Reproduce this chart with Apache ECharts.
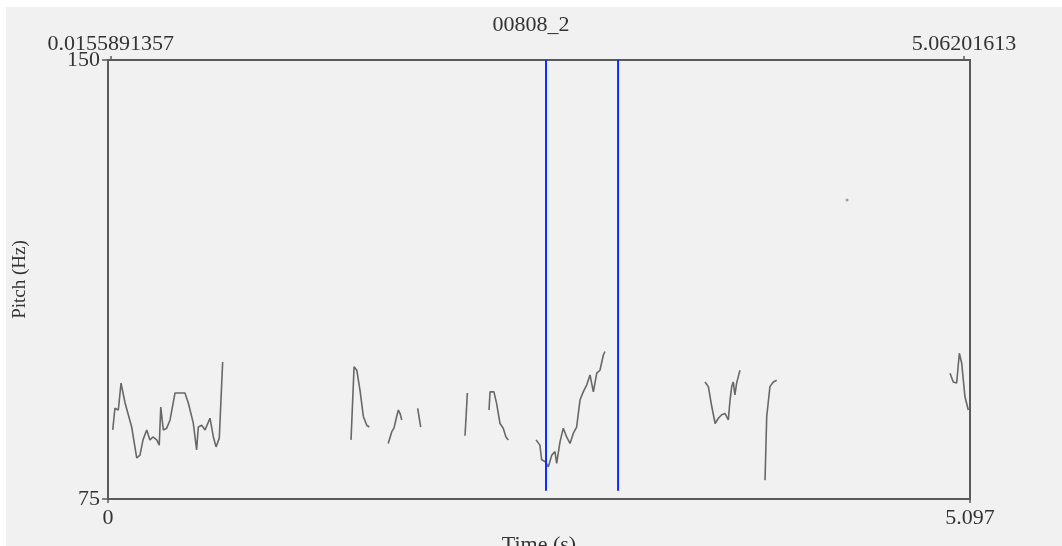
<!DOCTYPE html>
<html>
<head>
<meta charset="utf-8">
<script src="https://cdn.jsdelivr.net/npm/echarts@6/dist/echarts.min.js"></script>
<style>
html,body{margin:0;padding:0;background:#ffffff;}
#bg{position:absolute;left:6px;top:7px;width:1056px;height:539px;background:#f1f1f1;}
#c{position:absolute;left:0;top:0;width:1062px;height:546px;}
</style>
</head>
<body>
<div id="bg"></div>
<div id="c"></div>
<script>
// ---- data (time in s, pitch in Hz) ----
var titleText = '00808_2';
var xMin = 0, xMax = 5.097;
var yMin = 75, yMax = 150;
var bottomTickValues = [0, 5.097];
var bottomTickLabels = ['0', '5.097'];
var topTickValues = [0.0155891357, 5.06201613];
var topTickLabels = ['0.0155891357', '5.06201613'];
var yTickLabels = ['75', '150'];

var seg1 = [[0.028,86.8],[0.041,90.5],[0.061,90.2],[0.077,94.8],[0.101,91.4],[0.140,87.3],[0.170,82.0],[0.189,82.5],[0.207,85.1],[0.229,86.8],[0.248,85.1],[0.266,85.6],[0.288,85.1],[0.303,84.2],[0.312,90.7],[0.327,86.8],[0.347,87.1],[0.367,88.5],[0.396,93.1],[0.426,93.1],[0.455,93.1],[0.475,91.4],[0.504,88.0],[0.524,83.4],[0.534,87.3],[0.554,87.6],[0.574,86.8],[0.603,88.8],[0.623,85.6],[0.639,83.9],[0.658,85.4],[0.678,98.4]];
var seg2 = [[1.437,85.1],[1.455,97.6],[1.471,97.0],[1.490,93.6],[1.510,89.1],[1.530,87.6],[1.545,87.3]];
var seg3 = [[1.657,84.5],[1.678,86.5],[1.691,87.1],[1.707,89.1],[1.717,90.2],[1.727,89.6],[1.737,88.5]];
var seg4 = [[1.831,90.5],[1.849,87.3]];
var seg5 = [[2.111,85.8],[2.125,93.1]];
var seg6 = [[2.253,90.2],[2.259,93.3],[2.282,93.3],[2.298,91.3],[2.318,87.9],[2.337,87.1],[2.353,85.6],[2.367,85.1]];
var seg7 = [[2.531,85.1],[2.554,84.2],[2.564,81.7],[2.584,81.4],[2.604,80.5],[2.624,82.5],[2.643,83.1],[2.653,81.1],[2.673,84.8],[2.692,87.1],[2.712,85.6],[2.732,84.5],[2.751,86.2],[2.771,87.3],[2.791,91.9],[2.810,93.3],[2.831,94.5],[2.850,96.2],[2.870,93.3],[2.890,96.5],[2.909,97.0],[2.929,99.6],[2.939,100.2]];
var seg8 = [[3.530,95.0],[3.550,94.2],[3.570,90.8],[3.590,87.9],[3.609,88.8],[3.629,89.4],[3.649,89.6],[3.668,88.5],[3.678,91.9],[3.688,94.2],[3.697,95.0],[3.707,92.8],[3.717,94.8],[3.727,95.9],[3.737,97.0]];
var seg9 = [[3.885,78.2],[3.895,89.1],[3.914,94.2],[3.934,95.0],[3.954,95.3]];
var seg10 = [[4.979,96.5],[4.998,95.0],[5.018,94.8],[5.034,99.9],[5.048,98.2],[5.067,92.5],[5.087,90.2]];
var isolatedPoints = [[4.370,126.1]];
var cursorTimes = [2.590, 3.016];
var cursorRange = [76.4, 150];

var segments = [seg1, seg2, seg3, seg4, seg5, seg6, seg7, seg8, seg9, seg10];

// ---- chart ----
var chart = echarts.init(document.getElementById('c'), null, {renderer: 'canvas'});
var textColor = '#333333';
var frameColor = '#5a5a5a';
var serif = 'Liberation Serif';

var series = segments.map(function (seg) {
  return {
    type: 'line', data: seg, showSymbol: false, symbol: 'none',
    lineStyle: {color: '#686868', width: 1.6}, z: 3, silent: true
  };
});
series.push({
  type: 'scatter', data: isolatedPoints, symbolSize: 3,
  itemStyle: {color: '#8a8a8a'}, z: 3, silent: true
});
cursorTimes.forEach(function (t) {
  series.push({
    type: 'line', data: [[t, cursorRange[0]], [t, cursorRange[1]]],
    showSymbol: false, symbol: 'none',
    lineStyle: {color: '#0a2cff', width: 2}, z: 5, silent: true
  });
});

var option = {
  animation: false,
  backgroundColor: 'transparent',
  title: {
    text: titleText, left: 'center', top: 9,
    textStyle: {fontFamily: serif, fontSize: 22, fontWeight: 'normal', color: textColor}
  },
  grid: {
    left: 108, right: 92, top: 60, bottom: 47,
    outerBoundsMode: 'none', containLabel: false,
    show: true, borderColor: frameColor, borderWidth: 2, backgroundColor: 'transparent'
  },
  xAxis: [{
    type: 'value', position: 'bottom', min: xMin, max: xMax,
    name: 'Time (s)', nameLocation: 'middle', nameGap: 27,
    nameTextStyle: {fontFamily: serif, fontSize: 22, color: textColor},
    axisLine: {show: true, lineStyle: {color: frameColor, width: 2}},
    axisTick: {show: true, length: 4, customValues: bottomTickValues, lineStyle: {color: frameColor, width: 1.5}},
    axisLabel: {
      show: true, margin: 8, customValues: bottomTickValues,
      fontFamily: serif, fontSize: 22, color: textColor,
      formatter: function (v) {
        var i = bottomTickValues.indexOf(v);
        return i >= 0 ? bottomTickLabels[i] : String(v);
      }
    },
    splitLine: {show: false}
  }, {
    type: 'value', position: 'top', min: xMin, max: xMax,
    axisLine: {show: true, lineStyle: {color: frameColor, width: 2}},
    axisTick: {show: true, length: 4, customValues: topTickValues, lineStyle: {color: frameColor, width: 1.5}},
    axisLabel: {
      show: true, margin: 5, customValues: topTickValues,
      fontFamily: serif, fontSize: 22, color: textColor,
      formatter: function (v) {
        var best = 0, d = Infinity;
        for (var i = 0; i < topTickValues.length; i++) {
          var dd = Math.abs(topTickValues[i] - v);
          if (dd < d) { d = dd; best = i; }
        }
        return topTickLabels[best];
      }
    },
    splitLine: {show: false}
  }],
  yAxis: {
    type: 'value', min: yMin, max: yMax, interval: yMax - yMin,
    name: 'Pitch (Hz)', nameLocation: 'middle', nameGap: 78, nameRotate: 90,
    nameTextStyle: {fontFamily: serif, fontSize: 19, color: textColor},
    axisLine: {show: true, lineStyle: {color: frameColor, width: 2}},
    axisTick: {show: true, length: 6, lineStyle: {color: frameColor, width: 1.5}},
    axisLabel: {
      show: true, margin: 8, showMinLabel: true, showMaxLabel: true,
      fontFamily: serif, fontSize: 22, color: textColor,
      formatter: function (v) { return v === yMin ? yTickLabels[0] : yTickLabels[1]; }
    },
    splitLine: {show: false}
  },
  series: series
};
chart.setOption(option);
</script>
</body>
</html>
